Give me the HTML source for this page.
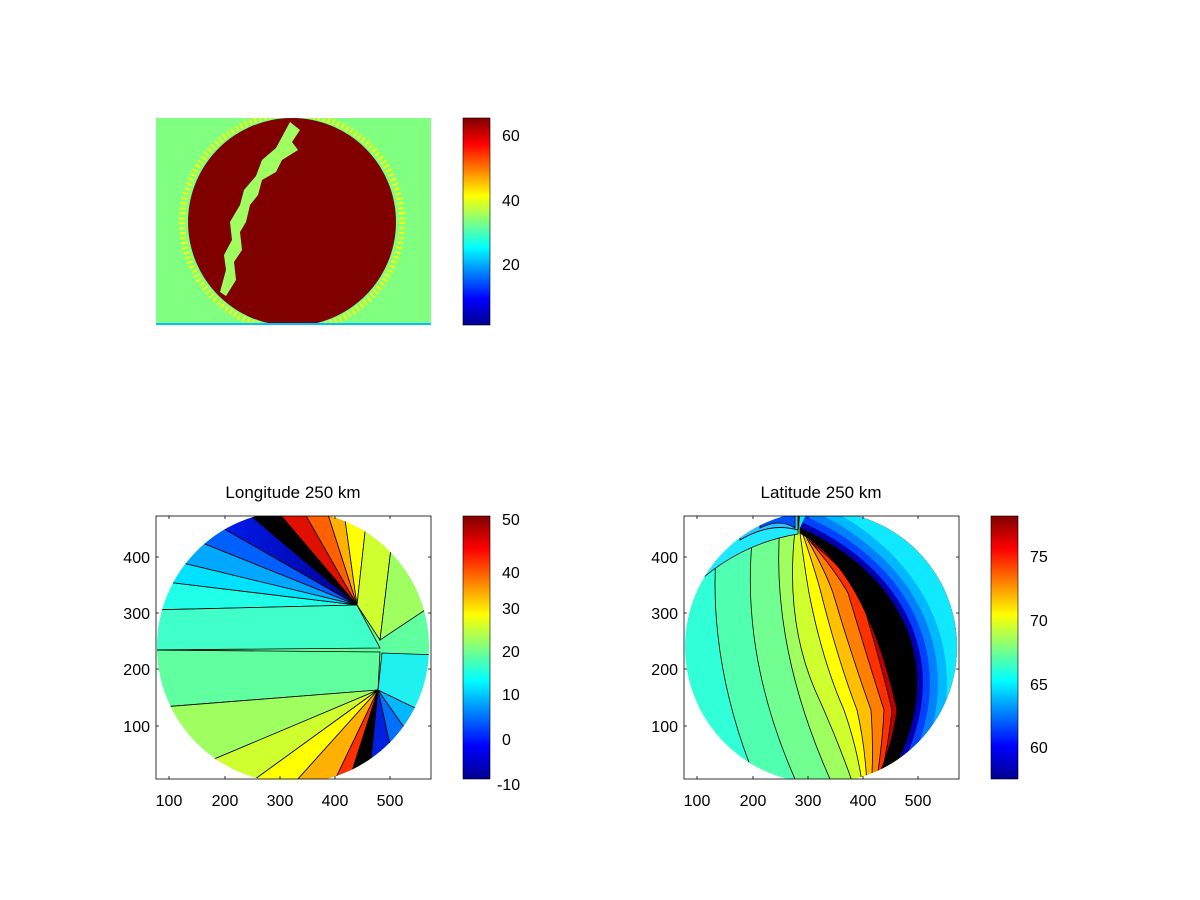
<!DOCTYPE html>
<html><head><meta charset="utf-8"><style>
html,body{margin:0;padding:0;background:#fff;}
svg{display:block;font-family:"Liberation Sans",sans-serif;}
</style></head><body>
<svg width="1200" height="900" viewBox="0 0 1200 900" xmlns="http://www.w3.org/2000/svg">
<defs>
<linearGradient id="jet" x1="0" y1="1" x2="0" y2="0">
<stop offset="0" stop-color="#00008f"/><stop offset="0.125" stop-color="#0000ff"/>
<stop offset="0.375" stop-color="#00ffff"/><stop offset="0.625" stop-color="#ffff00"/>
<stop offset="0.875" stop-color="#ff0000"/><stop offset="1" stop-color="#800000"/>
</linearGradient>
<clipPath id="c1"><rect x="156" y="516" width="275" height="263"/></clipPath>
<clipPath id="c1b"><circle cx="293" cy="647" r="136"/></clipPath>
<clipPath id="c2"><rect x="684" y="516" width="275" height="263"/></clipPath>
<clipPath id="c2b"><circle cx="821" cy="647" r="136"/></clipPath>
<clipPath id="blueR"><path d="M800,528 C860,555 905,600 915,660 Q925,720 882,790 L970,790 L970,500 L800,500 Z"/></clipPath>
<clipPath id="r0"><rect x="156" y="118" width="275" height="207"/></clipPath>
<linearGradient id="lonB" x1="0" y1="0" x2="1" y2="0">
<stop offset="0" stop-color="#0020ff"/><stop offset="1" stop-color="#000090"/>
</linearGradient>
</defs>

<!-- top image -->
<g clip-path="url(#r0)">
<rect x="156" y="118" width="275" height="207" fill="#80ff80"/>
<ellipse cx="292" cy="222" rx="110" ry="108" fill="none" stroke="#ffff00" stroke-width="6" stroke-dasharray="2 3"/>
<ellipse cx="292" cy="222" rx="104" ry="104" fill="#800000"/>
<path d="M290,122 L300,130 L292,142 L298,150 L282,160 L276,172 L262,180 L258,195 L250,205 L246,222 L240,232 L242,250 L234,262 L236,280 L226,296 L220,292 L226,270 L224,255 L232,240 L230,222 L240,205 L244,190 L256,176 L262,160 L276,148 Z" fill="#a0ff60"/>
<rect x="156" y="323" width="275" height="2" fill="#00c0ff"/>
</g>
<rect x="463" y="118" width="27" height="207" fill="url(#jet)" stroke="#000" stroke-width="0.6"/>
<g font-size="16" fill="#000">
<text x="502" y="141">60</text><text x="502" y="206">40</text><text x="502" y="270">20</text>
</g>

<!-- longitude plot -->
<rect x="156" y="516" width="275" height="263" fill="#fff"/>
<g clip-path="url(#c1)"><g clip-path="url(#c1b)" stroke="#000" stroke-width="0.8">
<rect x="150" y="500" width="290" height="290" fill="#60ffa0"/>
<polygon points="357,605 150,610 150,580" fill="#20ffe8"/>
<polygon points="357,605 150,580 150,555" fill="#00e0ff"/>
<polygon points="357,605 150,555 170,530" fill="#00a8ff"/>
<polygon points="357,605 170,530 200,515" fill="#0060ff"/>
<polygon points="357,605 200,515 238,505" fill="url(#lonB)"/>
<polygon points="357,605 238,505 272,505" fill="#000"/>
<polygon points="357,605 272,505 300,505" fill="#e01000"/>
<polygon points="357,605 300,505 325,505" fill="#ff6000"/>
<polygon points="357,605 325,505 343,505" fill="#ffb000"/>
<polygon points="357,605 343,505 368,505" fill="#ffff00"/>
<polygon points="357,605 368,505 395,515 380,640" fill="#d0ff30"/>
<polygon points="395,515 440,560 440,600 380,640" fill="#a0ff60"/>
<polygon points="357,605 150,610 150,650 380,648" fill="#40ffc8"/>
<polygon points="380,652 150,650 150,708 378,690" fill="#60ffa0"/>
<polygon points="378,690 150,708 150,740 200,765" fill="#a0ff60"/>
<polygon points="378,690 200,765 240,790" fill="#d0ff30"/>
<polygon points="378,690 240,790 288,790" fill="#ffff00"/>
<polygon points="378,690 288,790 330,790" fill="#ffb000"/>
<polygon points="378,690 330,790 346,790" fill="#ff3000"/>
<polygon points="378,690 346,790 368,790" fill="#000"/>
<polygon points="378,690 368,790 400,790" fill="#0020e0"/>
<polygon points="378,690 400,790 420,750" fill="#0070ff"/>
<polygon points="378,690 420,750 440,720" fill="#00b8ff"/>
<polygon points="378,690 440,720 440,655 382,653" fill="#20f0f0"/>
</g></g>
<rect x="156" y="516" width="275" height="263" fill="none" stroke="#000" stroke-width="0.8"/>
<g stroke="#000" stroke-width="0.8">
<path d="M169,779v-3M225,779v-3M280,779v-3M335,779v-3M390,779v-3M169,516v3M225,516v3M280,516v3M335,516v3M390,516v3M156,726h3M156,669h3M156,613h3M156,557h3M431,726h-3M431,669h-3M431,613h-3M431,557h-3"/>
</g>
<text x="293" y="498" font-size="17" text-anchor="middle">Longitude 250 km</text>
<g font-size="16" text-anchor="middle">
<text x="169" y="806">100</text><text x="225" y="806">200</text><text x="280" y="806">300</text><text x="335" y="806">400</text><text x="390" y="806">500</text>
</g>
<g font-size="16" text-anchor="end">
<text x="150" y="732">100</text><text x="150" y="675">200</text><text x="150" y="619">300</text><text x="150" y="563">400</text>
</g>
<rect x="463" y="516" width="27" height="263" fill="url(#jet)" stroke="#000" stroke-width="0.6"/>
<g font-size="16">
<text x="502" y="525">50</text><text x="502" y="578">40</text><text x="502" y="614">30</text><text x="502" y="657">20</text><text x="502" y="700">10</text><text x="502" y="745">0</text><text x="497" y="790">-10</text>
</g>

<!-- latitude plot -->
<rect x="684" y="516" width="275" height="263" fill="#fff"/>
<g clip-path="url(#c2)"><g clip-path="url(#c2b)" stroke="#000" stroke-width="0.8">
<rect x="680" y="500" width="290" height="290" fill="#30ffd8"/>
<path d="M720,500 L720,516 Q700,650 760,790 L970,790 L970,500 Z" fill="#50ffb0"/>
<path d="M755,500 L755,516 Q735,650 800,790 L970,790 L970,500 Z" fill="#70ff90"/>
<path d="M780,500 L780,525 Q770,650 835,790 L970,790 L970,500 Z" fill="#a0ff60"/>
<path d="M795,530 Q785,620 815,690 Q840,745 855,790 L970,790 L970,500 L795,500 Z" fill="#d0ff30"/>
<path d="M800,533 Q805,570 809,593 Q822,660 844,710 Q858,750 863,790 L970,790 L970,500 L800,500 Z" fill="#ffff00"/>
<path d="M803,535 Q815,570 821,593 Q838,660 857,710 Q866,750 867,790 L970,790 L970,500 L803,500 Z" fill="#ffc000"/>
<path d="M806,537 Q825,570 833,593 Q853,660 871,710 Q874,750 871,790 L970,790 L970,500 L806,500 Z" fill="#ff8000"/>
<path d="M809,540 Q835,570 848,593 Q868,660 884,710 Q882,750 875,790 L970,790 L970,500 L809,500 Z" fill="#ff3000"/>
<path d="M812,543 Q845,570 860,593 Q880,660 892,710 Q888,750 878,790 L970,790 L970,500 L812,500 Z" fill="#c00000"/>
<g clip-path="url(#blueR)">
<rect x="680" y="500" width="290" height="290" fill="#10e8ff" stroke="none"/>
<path d="M800,528 C860,555 905,600 915,660 Q925,720 882,790" fill="none" stroke="#00b8ff" stroke-width="60"/>
<path d="M800,528 C860,555 905,600 915,660 Q925,720 882,790" fill="none" stroke="#0080ff" stroke-width="42"/>
<path d="M800,528 C860,555 905,600 915,660 Q925,720 882,790" fill="none" stroke="#0040ff" stroke-width="26"/>
<path d="M800,528 C860,555 905,600 915,660 Q925,720 882,790" fill="none" stroke="#0000b0" stroke-width="12"/>
</g>
<path d="M800,533 C840,555 875,610 897,710 Q890,760 870,790 L882,790 Q925,720 915,660 C905,600 860,555 800,528 Z" fill="#000"/>
<path d="M680,600 Q730,545 798,534 L800,500 L680,500 Z" fill="#20e8ff"/>
<path d="M740,540 Q770,522 798,530 L798,500 L740,500 Z" fill="#30c0ff"/>
<path d="M760,528 Q780,518 795,528 L795,500 L760,500 Z" fill="#0050ff"/>
</g></g>
<rect x="684" y="516" width="275" height="263" fill="none" stroke="#000" stroke-width="0.8"/>
<g stroke="#000" stroke-width="0.8">
<path d="M697,779v-3M753,779v-3M808,779v-3M863,779v-3M918,779v-3M697,516v3M753,516v3M808,516v3M863,516v3M918,516v3M684,726h3M684,669h3M684,613h3M684,557h3M959,726h-3M959,669h-3M959,613h-3M959,557h-3"/>
</g>
<text x="821" y="498" font-size="17" text-anchor="middle">Latitude 250 km</text>
<g font-size="16" text-anchor="middle">
<text x="697" y="806">100</text><text x="753" y="806">200</text><text x="808" y="806">300</text><text x="863" y="806">400</text><text x="918" y="806">500</text>
</g>
<g font-size="16" text-anchor="end">
<text x="678" y="732">100</text><text x="678" y="675">200</text><text x="678" y="619">300</text><text x="678" y="563">400</text>
</g>
<rect x="991" y="516" width="27" height="263" fill="url(#jet)" stroke="#000" stroke-width="0.6"/>
<g font-size="16">
<text x="1030" y="562">75</text><text x="1030" y="626">70</text><text x="1030" y="690">65</text><text x="1030" y="753">60</text>
</g>
</svg>
</body></html>
